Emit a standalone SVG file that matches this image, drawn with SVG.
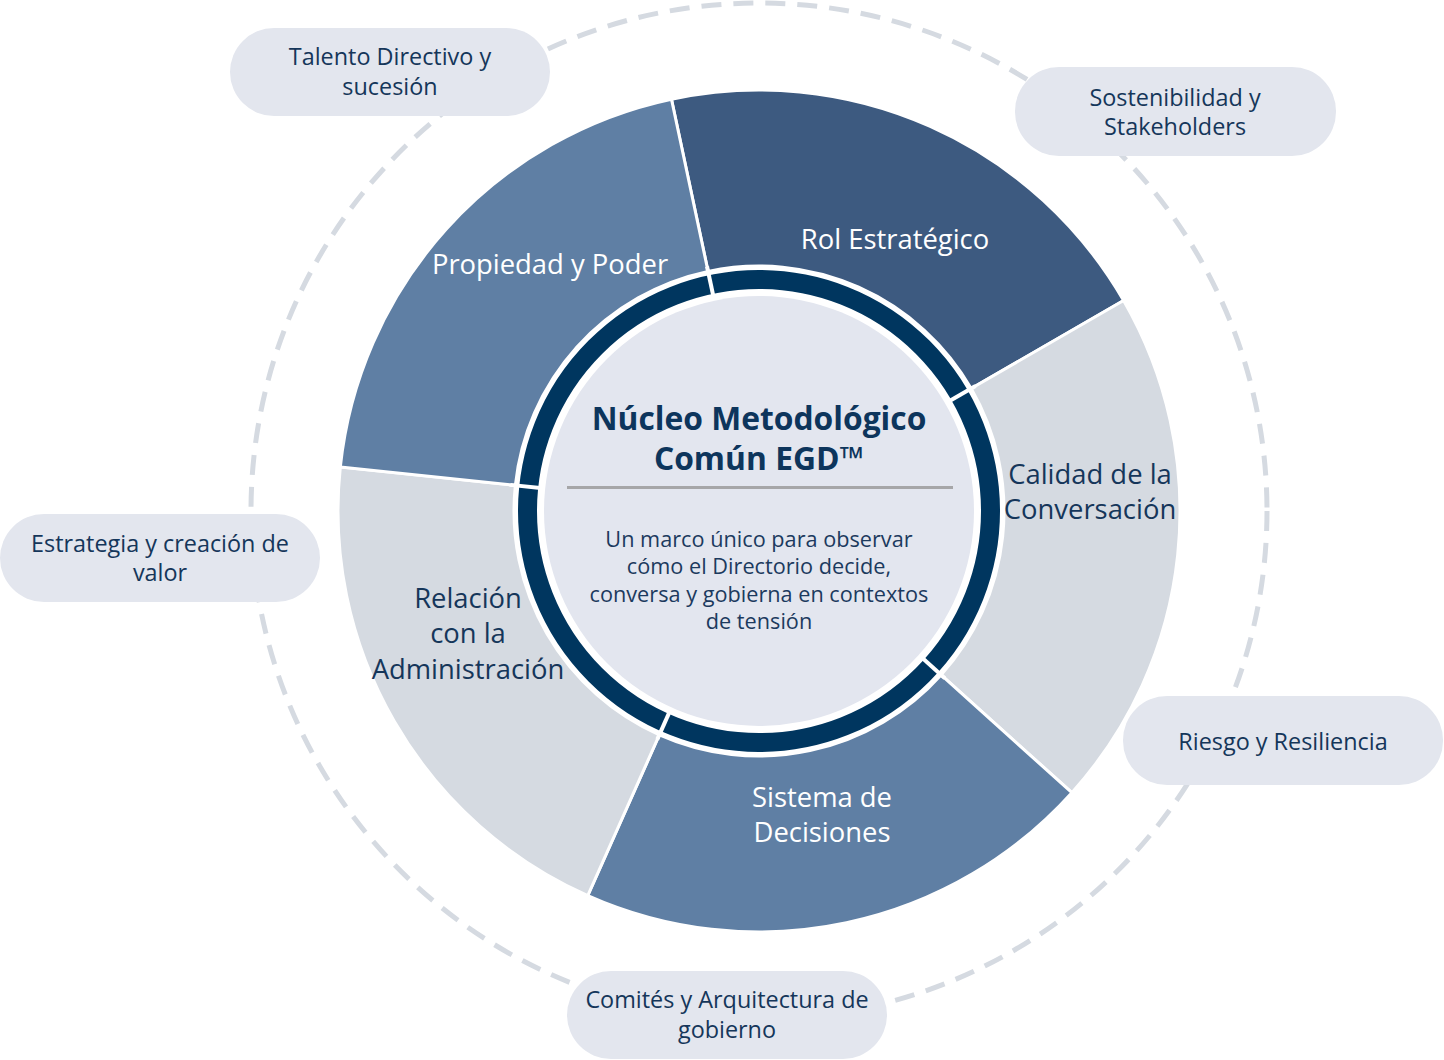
<svg xmlns="http://www.w3.org/2000/svg" width="1444" height="1060" viewBox="0 0 1444 1060">
<style>
.pill{fill:#e3e6ee}
.pt{font-family:"Open Sans","Noto Sans",sans-serif;font-size:23.4px;fill:#15365a;text-anchor:middle}
.seg{stroke:#ffffff;stroke-width:3;stroke-linejoin:miter}
.sl{font-family:"Open Sans","Noto Sans",sans-serif;font-size:27.4px;text-anchor:middle}
.w{fill:#ffffff}
.n{fill:#15365a}
.gap{stroke:#ffffff;stroke-width:4}
</style>
<rect x="0" y="0" width="1444" height="1060" fill="#ffffff"/>
<g id="orbit">
<circle cx="759" cy="511" r="508" fill="none" stroke="#d5dae1" stroke-width="5" stroke-dasharray="20 12"/>
</g>
<g id="seg-rol">
<path class="seg" fill="#3d5a80" d="M671.47,99.2 A421,421 0 0 1 1123.6,300.5 L971.18,388.5 A245,245 0 0 0 708.06,271.35 Z"/>
<text class="sl w" x="895" y="249">Rol Estratégico</text>
</g>
<g id="seg-calidad">
<path class="seg" fill="#d5dae1" d="M1123.6,300.5 A421,421 0 0 1 1071.86,792.7 L941.07,674.94 A245,245 0 0 0 971.18,388.5 Z"/>
<text class="sl n" x="1090" y="484">Calidad de la</text>
<text class="sl n" x="1090" y="519">Conversación</text>
</g>
<g id="seg-sistema">
<path class="seg" fill="#5f7fa4" d="M1071.86,792.7 A421,421 0 0 1 587.76,895.6 L659.35,734.82 A245,245 0 0 0 941.07,674.94 Z"/>
<text class="sl w" x="822" y="807">Sistema de</text>
<text class="sl w" x="822" y="842">Decisiones</text>
</g>
<g id="seg-relacion">
<path class="seg" fill="#d5dae1" d="M587.76,895.6 A421,421 0 0 1 340.31,466.99 L515.34,485.39 A245,245 0 0 0 659.35,734.82 Z"/>
<text class="sl n" x="468" y="608">Relación</text>
<text class="sl n" x="468" y="643">con la</text>
<text class="sl n" x="468" y="679">Administración</text>
</g>
<g id="seg-propiedad">
<path class="seg" fill="#5f7fa4" d="M340.31,466.99 A421,421 0 0 1 671.47,99.2 L708.06,271.35 A245,245 0 0 0 515.34,485.39 Z"/>
<text class="sl w" x="550" y="274">Propiedad y Poder</text>
</g>
<g id="connectors">
<circle cx="759" cy="511" r="231.5" fill="none" stroke="#00365f" stroke-width="19"/>
<line class="gap" x1="714.3" y1="300.7" x2="707.02" y2="266.46"/>
<line class="gap" x1="945.2" y1="403.5" x2="975.51" y2="386"/>
<line class="gap" x1="918.78" y1="654.86" x2="944.79" y2="678.28"/>
<line class="gap" x1="671.55" y1="707.41" x2="657.31" y2="739.39"/>
<line class="gap" x1="545.18" y1="488.53" x2="510.37" y2="484.87"/>
</g>
<g id="core">
<circle cx="759" cy="511" r="215" fill="#e3e6ef"/>
<text x="759" y="430" font-family="'Open Sans','Noto Sans',sans-serif" font-size="31.8" font-weight="bold" fill="#0d355c" text-anchor="middle">Núcleo Metodológico</text>
<text x="759" y="470" font-family="'Open Sans','Noto Sans',sans-serif" font-size="31.8" font-weight="bold" fill="#0d355c" text-anchor="middle">Común EGD™</text>
<line x1="567" y1="487.5" x2="953" y2="487.5" stroke="#a6a6a8" stroke-width="3"/>
<g font-family="'Open Sans','Noto Sans',sans-serif" font-size="21.7" fill="#1c3a5e" text-anchor="middle">
<text x="759" y="547">Un marco único para observar</text>
<text x="759" y="574">cómo el Directorio decide,</text>
<text x="759" y="602">conversa y gobierna en contextos</text>
<text x="759" y="629">de tensión</text>
</g>
</g>
<g id="pill-talento">
<rect class="pill" x="230" y="28" width="320" height="88" rx="44"/>
<text class="pt" x="390" y="65">Talento Directivo y</text>
<text class="pt" x="390" y="95">sucesión</text>
</g>
<g id="pill-sostenibilidad">
<rect class="pill" x="1015" y="67" width="321" height="89" rx="44"/>
<text class="pt" x="1175" y="106">Sostenibilidad y</text>
<text class="pt" x="1175" y="135">Stakeholders</text>
</g>
<g id="pill-estrategia">
<rect class="pill" x="0" y="514" width="320" height="88" rx="44"/>
<text class="pt" x="160" y="552">Estrategia y creación de</text>
<text class="pt" x="160" y="581">valor</text>
</g>
<g id="pill-riesgo">
<rect class="pill" x="1123" y="696" width="320" height="89" rx="44"/>
<text class="pt" x="1283" y="750">Riesgo y Resiliencia</text>
</g>
<g id="pill-comites">
<rect class="pill" x="567" y="971" width="320" height="88" rx="44"/>
<text class="pt" x="727" y="1008">Comités y Arquitectura de</text>
<text class="pt" x="727" y="1038">gobierno</text>
</g>
</svg>
